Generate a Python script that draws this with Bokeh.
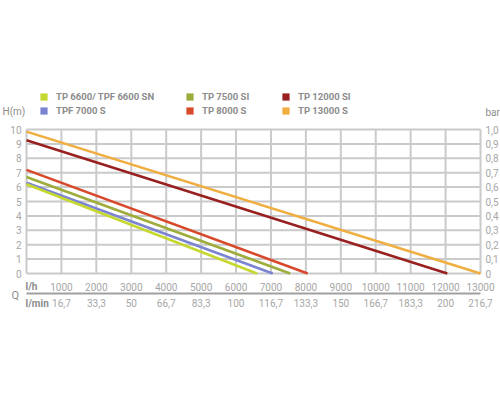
from bokeh.plotting import figure
from bokeh.models import Range1d, Label, Legend, LegendItem
from bokeh.core.properties import value
from bokeh.embed import file_html
from bokeh.resources import INLINE

# ---- data ----
models = ["TP 6600/ TPF 6600 SN", "TPF 7000 S", "TP 7500 SI", "TP 8000 S", "TP 12000 SI", "TP 13000 S"]
colors = ["#c6d82e", "#7b84d0", "#9dac3a", "#d8482a", "#982020", "#f0ae40"]
head_at_zero = [6.2, 6.3, 6.7, 7.2, 9.25, 9.85]          # H(m) at Q = 0
max_flow = [6600, 7050, 7550, 8050, 12050, 13000]        # l/h at H = 0

lh_ticks = [1000, 2000, 3000, 4000, 5000, 6000, 7000, 8000, 9000, 10000, 11000, 12000, 13000]
lh_labels = [str(t) for t in lh_ticks]
lmin_labels = ["16,7", "33,3", "50", "66,7", "83,3", "100", "116,7", "133,3", "150",
               "166,7", "183,3", "200", "216,7"]
h_ticks = [0, 1, 2, 3, 4, 5, 6, 7, 8, 9, 10]
h_labels = [str(t) for t in h_ticks]
bar_ticks = [i / 10 for i in range(11)]
bar_labels = ["0", "0,1", "0,2", "0,3", "0,4", "0,5", "0,6", "0,7", "0,8", "0,9", "1,0"]

# ---- layout constants (pixels) ----
W, H = 500, 400
X0_PX, Y0_PX = 26, 273            # where Q = 0 and H = 0 sit
PX_PER_LH = 454 / 13000
PX_PER_M = 14.4

FONT = value("Roboto")
TICK_COLOR = "#a6a6a6"
LABEL_COLOR = "#8c8c8c"
GRID_COLOR = "#cacaca"

y_start = -(H - Y0_PX) / PX_PER_M
y_end = Y0_PX / PX_PER_M
p = figure(width=W, height=H,
           x_range=Range1d(-X0_PX / PX_PER_LH, (W - X0_PX) / PX_PER_LH),
           y_range=Range1d(y_start, y_end),
           x_axis_location=None, y_axis_location=None,
           output_backend="svg", toolbar_location=None,
           min_border=0, min_border_left=0, min_border_right=0,
           min_border_top=0, min_border_bottom=0)
p.outline_line_color = None
p.background_fill_color = "white"
p.border_fill_color = "white"
p.grid.visible = False
p.extra_y_ranges = {"bar": Range1d(y_start / 10, y_end / 10)}

# grid limited to the 0..10 m / 0..13000 l/h area
vx = [0] + lh_ticks
p.segment(x0=vx, x1=vx, y0=[h_ticks[0]] * len(vx), y1=[h_ticks[-1]] * len(vx),
          line_color=GRID_COLOR, line_width=2)
p.segment(x0=[0] * len(h_ticks), x1=[lh_ticks[-1]] * len(h_ticks), y0=h_ticks, y1=h_ticks,
          line_color=GRID_COLOR, line_width=2)

# tick labels
tick_style = dict(text_font=FONT, text_font_size="10px", text_color=TICK_COLOR,
                  text_baseline="middle")
p.text(x=[0] * len(h_ticks), y=h_ticks, text=h_labels, x_offset=-5, text_align="right",
       **tick_style)
p.text(x=[lh_ticks[-1]] * len(bar_ticks), y=bar_ticks, text=bar_labels, x_offset=5,
       text_align="left", y_range_name="bar", **tick_style)
p.text(x=lh_ticks, y=[0] * len(lh_ticks), text=lh_labels, y_offset=13, text_align="center",
       **tick_style)
p.text(x=lh_ticks, y=[0] * len(lh_ticks), text=lmin_labels, y_offset=29.5, text_align="center",
       **tick_style)

# separator between the l/h and l/min rows
sep_y = -(293 - Y0_PX) / PX_PER_M
p.segment(x0=[0], x1=[lh_ticks[-1]], y0=[sep_y], y1=[sep_y], line_color="#a0a0a0", line_width=2)

# curves
order = [5, 4, 3, 2, 1, 0]
for i in order:
    p.line([0, max_flow[i]], [head_at_zero[i], 0], line_color=colors[i], line_width=2.5)

# legend (square swatches; NaN rows so nothing shows in the plot area)
nan = float("nan")
swatches = [p.quad(left=[nan], right=[nan], top=[nan], bottom=[nan], fill_color=c, line_color=None)
            for c in colors]
col_x = [39, 185, 281]
for k in range(3):
    items = [LegendItem(label=models[2 * k + j], renderers=[swatches[2 * k + j]], index=0)
             for j in range(2)]
    lg = Legend(items=items, location=(col_x[k], H - 115.5), orientation="vertical",
                glyph_width=9, glyph_height=9, label_height=10, label_standoff=8,
                spacing=3, padding=0, margin=0, border_line_color=None,
                background_fill_alpha=0,
                label_text_font="Roboto", label_text_font_size="9.5px",
                label_text_font_style="bold", label_text_color=LABEL_COLOR)
    p.add_layout(lg, "center")


# static labels (screen px from the top-left corner)
def lab(text, x, y, bold=False, size="10px", color=LABEL_COLOR):
    p.add_layout(Label(text=text, x=x, y=H - y, x_units="screen", y_units="screen",
                       text_align="left", text_baseline="middle", text_font="Roboto",
                       text_font_size=size, text_font_style="bold" if bold else "normal",
                       text_color=color))


lab("H(m)", 2, 111)
lab("bar", 485, 112)
lab("Q", 11, 294.5, size="11px")
lab("l/h", 25, 286, bold=True)
lab("l/min", 25, 302.5, bold=True)

open("out.html", "w").write(file_html(p, INLINE))
